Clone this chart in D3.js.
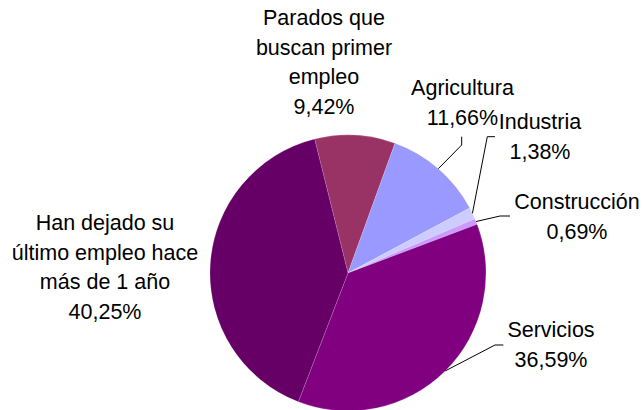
<!DOCTYPE html>
<html>
<head>
<meta charset="utf-8">
<script src="https://cdn.jsdelivr.net/npm/d3@7"></script>
<style>
  html, body { margin: 0; padding: 0; background: #fff; }
  svg { display: block; }
</style>
</head>
<body>
<div id="chart"></div>
<script>
// Parados por sector - pie chart

const categories = [
    ['Parados que', 'buscan primer', 'empleo'],
    ['Agricultura'],
    ['Industria'],
    ['Construcción'],
    ['Servicios'],
    ['Han dejado su', 'último empleo hace', 'más de 1 año']
];
const values = [9.42, 11.66, 1.38, 0.69, 36.59, 40.25];
const valueLabels = ['9,42%', '11,66%', '1,38%', '0,69%', '36,59%', '40,25%'];
const colors = ['#993366', '#9999ff', '#ccccff', '#cc99ff', '#800080', '#660066'];

const width = 644, height = 410;
const cx = 348, cy = 273, radius = 138;
const lineH = 29.7;

// label layout: centre x, first baseline y, and leader elbow (null = no leader)
const layout = [
    { x: 324, y: 25, leader: null },
    { x: 462.5, y: 95, leader: { bend: [461.7, 145], end: [461.7, 136.7] } },
    { x: 540, y: 129, leader: { bend: [487.3, 136.7], end: [495, 136.7] } },
    { x: 577, y: 209, leader: { bend: [500, 216], end: [510, 216] } },
    { x: 551, y: 337, leader: { bend: [495, 345], end: [503.3, 345] } },
    { x: 105, y: 230, leader: null }
];

const svg = d3.select('#chart')
    .append('svg')
    .attr('width', width)
    .attr('height', height);

const pie = d3.pie()
    .sort(null)
    .value(d => d)
    .startAngle(-14 * Math.PI / 180)
    .endAngle(346 * Math.PI / 180);

const arcs = pie(values);
const arc = d3.arc().innerRadius(0).outerRadius(radius);
const edge = d3.arc().innerRadius(radius).outerRadius(radius);

const g = svg.append('g').attr('transform', `translate(${cx},${cy})`);

g.selectAll('path')
    .data(arcs)
    .join('path')
    .attr('d', arc)
    .attr('fill', (d, i) => colors[i])
    .attr('stroke', 'rgba(255,255,255,0.25)')
    .attr('stroke-width', 0.6);

// leader lines
arcs.forEach((d, i) => {
    const L = layout[i].leader;
    if (!L) return;
    const c = edge.centroid(d);
    const pts = [[c[0] + cx, c[1] + cy], L.bend, L.end];
    svg.append('path')
        .attr('d', d3.line()(pts))
        .attr('fill', 'none')
        .attr('stroke', '#000')
        .attr('stroke-width', 1);
});

// labels
categories.forEach((lines, i) => {
    const all = lines.concat([valueLabels[i]]);
    const t = svg.append('text')
        .attr('text-anchor', 'middle')
        .attr('font-family', '"Liberation Sans", Arial, sans-serif')
        .attr('font-size', '21.5px')
        .attr('fill', '#000');
    all.forEach((s, k) => {
        t.append('tspan')
            .attr('x', layout[i].x)
            .attr('y', layout[i].y + k * lineH)
            .text(s);
    });
});
</script>
</body>
</html>
